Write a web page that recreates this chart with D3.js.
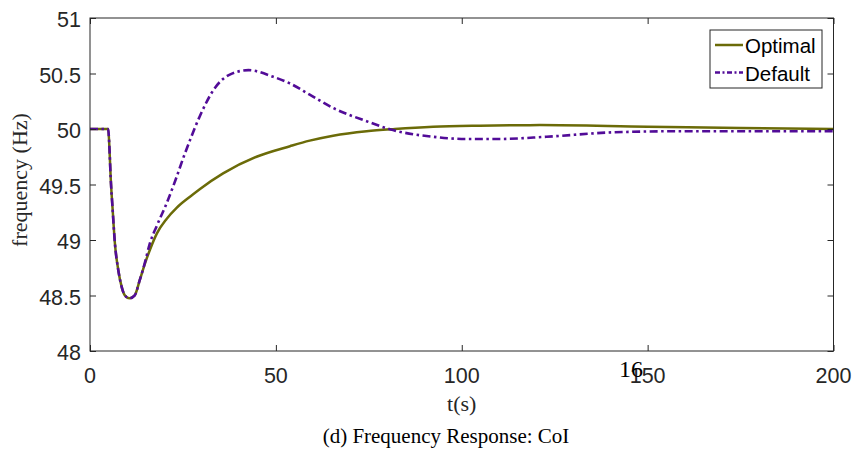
<!DOCTYPE html>
<html>
<head>
<meta charset="utf-8">
<script src="https://cdn.jsdelivr.net/npm/d3@7"></script>
<style>
    body { margin: 0; background: #fff; }
    .tick-label { font-family: "Liberation Sans", Arial, sans-serif; font-size: 21.5px; fill: #262626; }
    .serif { font-family: "Liberation Serif", "Times New Roman", serif; fill: #262626; }
</style>
</head>
<body>
<div id="chart"></div>
<script>
// time (s) and frequency (Hz)
var optimalT = [0, 4.9, 5.2, 5.55, 6.1, 6.7, 7.6, 8.5, 9.4, 10.6, 12, 13.4, 14.8, 16.1, 18, 20.6, 23.3, 26.9, 29.6, 35.8, 44.8, 53.8, 59.1, 65.4, 74.4, 82, 92.3, 104.8, 121, 150, 175, 200];
var optimalF = [50, 50, 49.85, 49.57, 49.27, 48.97, 48.73, 48.58, 48.50, 48.475, 48.50, 48.64, 48.79, 48.91, 49.06, 49.19, 49.29, 49.39, 49.46, 49.60, 49.75, 49.845, 49.895, 49.94, 49.98, 50.0, 50.02, 50.03, 50.035, 50.02, 50.01, 50.0];

var defaultT = [0, 4.9, 5.2, 5.55, 6.1, 6.7, 7.6, 8.5, 9.4, 10.6, 12, 13.4, 14.8, 16.1, 18, 20.6, 23, 25.1, 26.9, 29.6, 33.6, 37.6, 42.6, 49.3, 53.8, 59.1, 65.4, 74.4, 81.5, 92.3, 101.3, 110.2, 122.8, 140.7, 158.6, 180, 200];
var defaultF = [50, 50, 49.85, 49.57, 49.27, 48.97, 48.73, 48.58, 48.50, 48.475, 48.50, 48.64, 48.80, 48.97, 49.13, 49.33, 49.54, 49.74, 49.90, 50.12, 50.37, 50.49, 50.53, 50.47, 50.41, 50.31, 50.19, 50.07, 49.99, 49.93, 49.91, 49.91, 49.93, 49.97, 49.98, 49.98, 49.98];

var xTicks = [0, 50, 100, 150, 200];
var yTicks = [48, 48.5, 49, 49.5, 50, 50.5, 51];
var seriesNames = ["Optimal", "Default"];

var svg_width = 855, svg_height = 452;
var margin = {top: 18, right: 21.5, bottom: 101, left: 90};
var width = svg_width - margin.left - margin.right;
var height = svg_height - margin.top - margin.bottom;

var svg = d3.select("#chart").append("svg")
    .attr("width", svg_width)
    .attr("height", svg_height);

var g = svg.append("g")
    .attr("transform", "translate(" + margin.left + "," + margin.top + ")");

var x = d3.scaleLinear().domain([0, 200]).range([0, width]);
var y = d3.scaleLinear().domain([48, 51]).range([height, 0]);

var line = d3.line()
    .curve(d3.curveMonotoneX)
    .x(function(d) { return x(d[0]); })
    .y(function(d) { return y(d[1]); });

var optimalData = d3.zip(optimalT, optimalF);
var defaultData = d3.zip(defaultT, defaultF);

var colors = {Optimal: "#6b6b08", Default: "#520c98"};

// lines first, box and ticks on top
g.append("path")
    .datum(optimalData)
    .attr("d", line)
    .attr("fill", "none")
    .attr("stroke", colors.Optimal)
    .attr("stroke-width", 2.5);

g.append("path")
    .datum(defaultData)
    .attr("d", line)
    .attr("fill", "none")
    .attr("stroke", colors.Default)
    .attr("stroke-width", 2.6)
    .attr("stroke-dasharray", "8,3.5,2.5,3.5");

var axisColor = "#262626";

function styleAxis(sel) {
    sel.select(".domain").remove();
    sel.selectAll(".tick line").attr("stroke", axisColor);
}

// inward ticks on all four sides, labels on left and bottom
g.append("g")
    .attr("transform", "translate(0," + height + ")")
    .call(d3.axisBottom(x).tickValues(xTicks).tickSize(-6).tickFormat(""))
    .call(styleAxis);
g.append("g")
    .call(d3.axisTop(x).tickValues(xTicks).tickSize(-6).tickFormat(""))
    .call(styleAxis);
g.append("g")
    .call(d3.axisLeft(y).tickValues(yTicks).tickSize(-6).tickFormat(""))
    .call(styleAxis);
g.append("g")
    .attr("transform", "translate(" + width + ",0)")
    .call(d3.axisRight(y).tickValues(yTicks).tickSize(-6).tickFormat(""))
    .call(styleAxis);

g.append("rect")
    .attr("width", width)
    .attr("height", height)
    .attr("fill", "none")
    .attr("stroke", axisColor)
    .attr("stroke-width", 1);

g.selectAll(".xlab")
    .data(xTicks)
  .enter().append("text")
    .attr("class", "tick-label")
    .attr("x", function(d) { return x(d); })
    .attr("y", height + 32)
    .attr("text-anchor", "middle")
    .text(function(d) { return d; });

g.selectAll(".ylab")
    .data(yTicks)
  .enter().append("text")
    .attr("class", "tick-label")
    .attr("x", -9)
    .attr("y", function(d) { return y(d) + 9; })
    .attr("text-anchor", "end")
    .text(function(d) { return d; });

// legend
var legend = g.append("g")
    .attr("transform", "translate(" + (710 - margin.left) + "," + (30 - margin.top) + ")");

legend.append("rect")
    .attr("width", 112)
    .attr("height", 58)
    .attr("fill", "#fff")
    .attr("stroke", axisColor)
    .attr("stroke-width", 1);

var legendDash = {Optimal: null, Default: "5,2.5,2,2.5"};

seriesNames.forEach(function(name, i) {
    var ly = 15 + i * 27.5;
    legend.append("line")
        .attr("x1", 5).attr("x2", 33)
        .attr("y1", ly).attr("y2", ly)
        .attr("stroke", colors[name])
        .attr("stroke-width", 2.5)
        .attr("stroke-dasharray", legendDash[name]);
    legend.append("text")
        .attr("class", "tick-label")
        .style("font-size", "20.5px")
        .attr("x", 35)
        .attr("y", ly + 8)
        .style("fill", "#000")
        .text(name);
});

// axis titles and caption
svg.append("text")
    .attr("class", "serif")
    .style("font-size", "22px")
    .attr("transform", "translate(27," + 180 + ") rotate(-90)")
    .attr("text-anchor", "middle")
    .text("frequency (Hz)");

svg.append("text")
    .attr("class", "serif")
    .style("font-size", "22px")
    .attr("x", margin.left + width / 2)
    .attr("y", 411)
    .attr("text-anchor", "middle")
    .text("t(s)");

svg.append("text")
    .attr("class", "serif")
    .style("font-size", "21px")
    .style("fill", "#000")
    .attr("x", 446)
    .attr("y", 443)
    .attr("text-anchor", "middle")
    .text("(d) Frequency Response: CoI");

// page number bleeding through from the paper
svg.append("text")
    .attr("class", "serif")
    .style("font-size", "24px")
    .style("fill", "#000")
    .attr("x", 619)
    .attr("y", 377)
    .text("16");
</script>
</body>
</html>
